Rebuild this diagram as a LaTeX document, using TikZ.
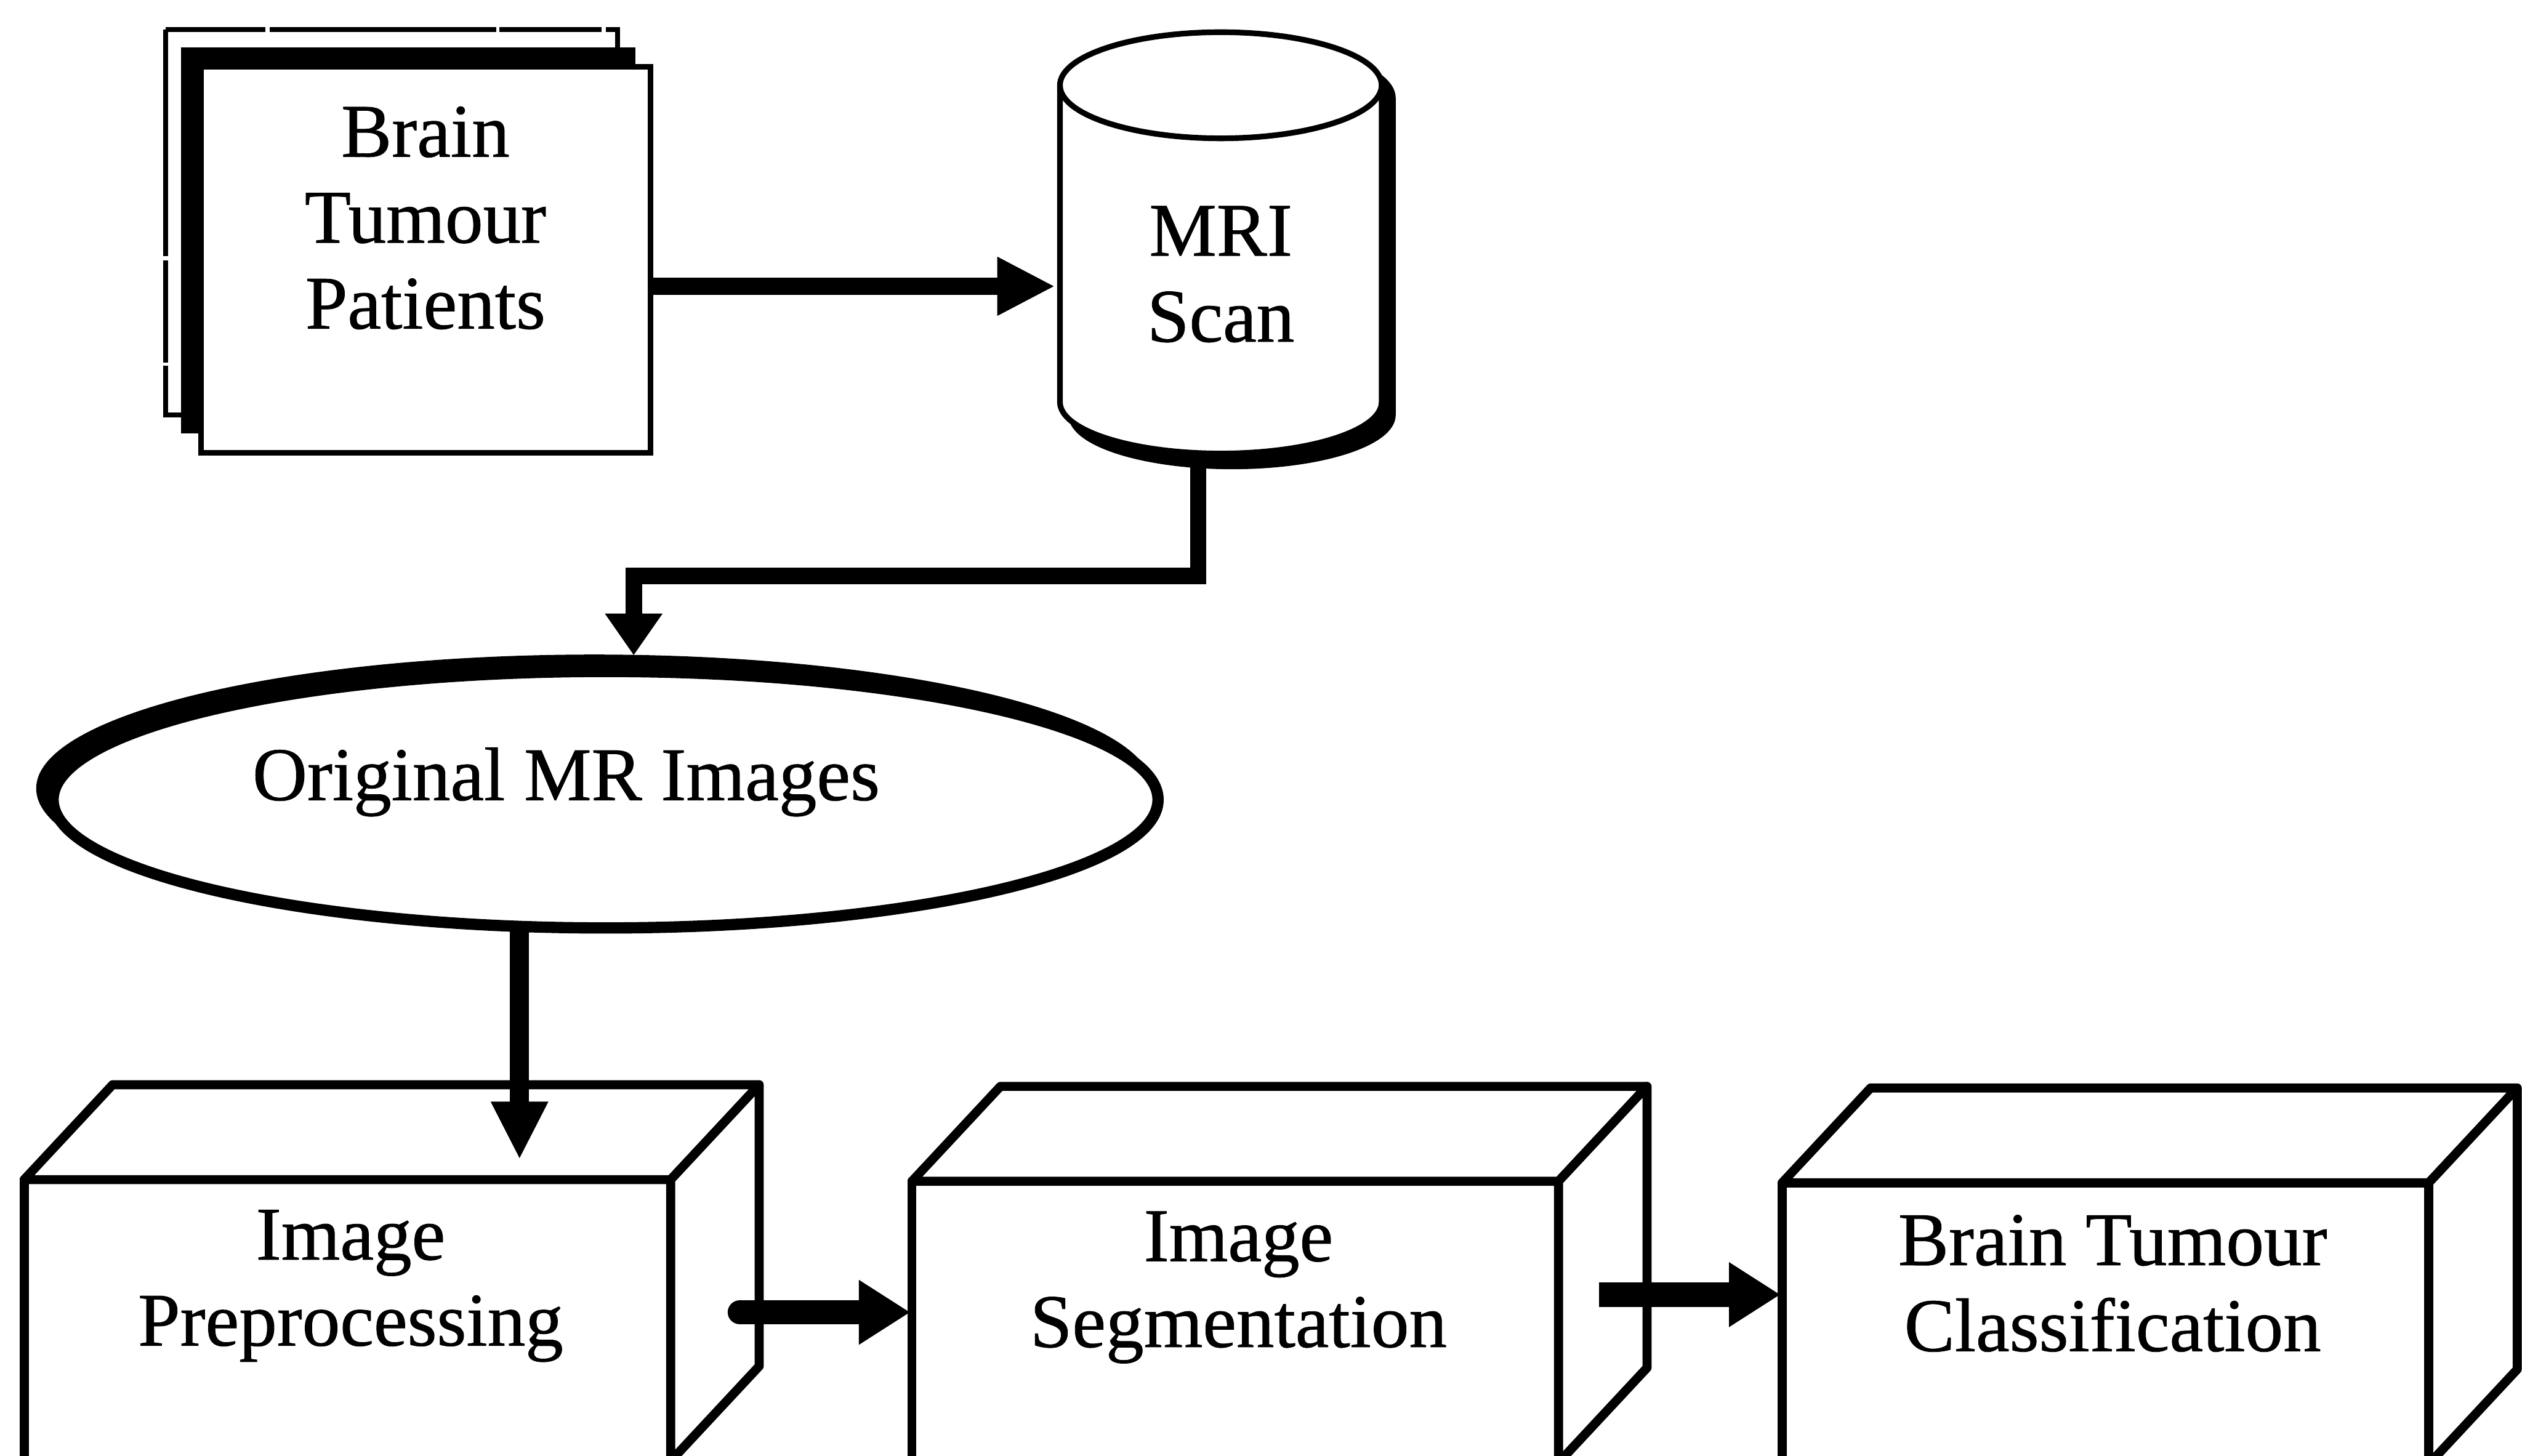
\documentclass[tikz,border=0pt]{standalone}
\usepackage{fontspec}
\setmainfont{Liberation Serif}[UprightFeatures={FakeBold=0.7}]
\usetikzlibrary{arrows.meta}
\newcommand\lblfont{\fontsize{13.4pt}{15.2pt}\selectfont}
% box drawn in perspective: front face, top face and right face
% #1,#2 = top-left corner of the front face
\newcommand\cubeshape[2]{%
  \begin{scope}[shift={(#1,#2)}]
    \draw[cubeline, fill=white] (0,0) rectangle (402,175);
    \draw[cubeline, fill=white] (0,0) -- (55,-59) -- (457,-59) -- (402,0) -- cycle;
    \draw[cubeline, fill=white] (402,0) -- (457,-59) -- (457,116) -- (402,175) -- cycle;
  \end{scope}}
\begin{document}
\begin{tikzpicture}[x=0.01cm, y=-0.01cm,
  thinline/.style={line width=1pt},
  cubeline/.style={line width=1.6pt, line join=round},
  lbl/.style={font=\lblfont, align=center, inner sep=0pt},
  ]
\clip (0,0) rectangle (1568,905);
\fill[white] (0,0) rectangle (1568,905);

% --- stack of patient records ---
\draw[line width=0.9pt, dash pattern=on 40pt off 0.8pt on 18pt off 0.6pt] (103,18.5) rectangle (384,258);
\fill[black] (112.5,29.5) rectangle (395,269.5);
\draw[thinline, fill=white] (125,41.5) rectangle (404.5,281.5);
\node[lbl] (patients) at (264.5,135.5) {Brain\\Tumour\\Patients};

% --- scanner drum ---
\begin{scope}[shift={(7,8)}]
  \filldraw[thinline] (659,53) -- (659,250)
    arc[start angle=180, end angle=0, x radius=100, y radius=32] -- (859,53)
    arc[start angle=0, end angle=-180, x radius=100, y radius=33] -- cycle;
\end{scope}
\filldraw[thinline, fill=white] (659,53) -- (659,250)
  arc[start angle=180, end angle=0, x radius=100, y radius=32] -- (859,53)
  arc[start angle=0, end angle=-180, x radius=100, y radius=33] -- cycle;
\draw[thinline] (659,53) arc[start angle=180, end angle=0, x radius=100, y radius=33];
\node[lbl] (mri) at (759,170.5) {MRI\\Scan};

% --- image set ---
\fill[black] (369.5,490.25) ellipse[x radius=347, y radius=83.25];
\draw[line width=2pt, fill=white] (376.5,497.25) ellipse[x radius=343.5, y radius=79.75];
\node[lbl, anchor=base] (orig) at (352,497.5) {Original MR Images};

% --- processing stages ---
\cubeshape{15}{733.5}
\cubeshape{567}{734.5}
\cubeshape{1108}{735.5}
\node[lbl] (prep) at (218,799.6) {Image\\Preprocessing};
\node[lbl] (seg) at (770,800.5) {Image\\Segmentation};
\node[lbl] (cls) at (1313.5,798) {Brain Tumour\\Classification};

% --- connection points ---
\coordinate (docE) at (406,178);
\coordinate (cylW) at (656,178);
\coordinate (cylS) at (745,286);
\coordinate (bendA) at (745,358);
\coordinate (bendB) at (394,358);
\coordinate (ellN) at (394,407.5);
\coordinate (ellS) at (323,578);
\coordinate (prepN) at (323,721);
\coordinate (prepE) at (460,816);
\coordinate (segW) at (566,816);
\coordinate (segE) at (994,805);
\coordinate (clsW) at (1107,805);

% --- flow arrows ---
\draw[line width=3.1pt, -{Triangle[length=0.36cm,width=0.34cm]}] (docE) -- (cylW);
\draw[line width=2.9pt, line join=miter, -{Triangle[length=0.26cm,width=0.34cm]}]
  (cylS) -- (bendA) -- (bendB) -- (ellN);
\draw[line width=3.4pt, -{Triangle[length=0.36cm,width=0.33cm]}] (ellS) -- (prepN);
\draw[line width=4.3pt, line cap=round, -{Triangle[length=0.32cm,width=0.38cm]}] (prepE) -- (segW);
\draw[line width=4.3pt, -{Triangle[length=0.32cm,width=0.38cm]}] (segE) -- (clsW);
\end{tikzpicture}
\end{document}
